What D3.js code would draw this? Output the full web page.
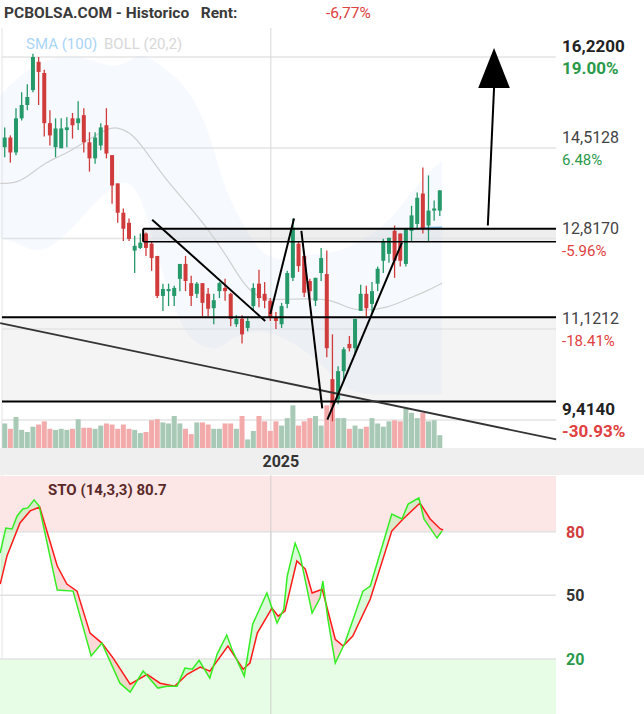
<!DOCTYPE html>
<html><head><meta charset="utf-8">
<script src="https://cdn.jsdelivr.net/npm/d3@7"></script>
<style>body{margin:0;background:#fff}svg{display:block;font-family:Roboto,sans-serif}</style>
</head><body><svg width="644" height="714"></svg>
<script>
// candles: open, close, high, low
const opens  = [14.53,14.71,14.43,15.07,15.32,15.60,16.13,15.92,14.98,14.53,14.51,14.85,15.07,14.98,15.13,14.62,14.32,14.56,14.94,14.38,13.85,13.30,13.11,12.59,12.64,12.91,12.72,12.49,11.74,11.83,11.74,12.06,12.34,11.98,11.78,11.98,11.78,11.51,11.83,11.89,11.78,11.21,11.31,11.14,11.55,11.97,11.78,11.65,11.33,11.21,11.59,12.08,12.72,12.49,12.02,11.65,12.17,12.15,10.18,9.80,10.33,10.84,10.76,11.46,11.78,11.59,11.97,12.40,12.53,12.96,12.91,12.34,12.96,13.09,13.66,13.06,13.34,13.34];
const closes = [14.71,14.43,15.07,15.32,15.47,16.22,15.94,14.98,14.75,14.88,14.88,14.90,14.94,15.07,14.62,14.32,14.71,14.90,14.41,13.81,13.30,13.00,12.81,12.68,12.74,12.64,12.45,11.74,11.87,11.87,11.89,12.34,12.02,11.74,11.97,11.61,11.50,11.66,11.98,11.83,11.31,11.31,11.02,11.27,11.89,11.70,11.65,11.33,11.27,11.55,12.17,13.02,12.30,11.80,11.83,12.08,12.45,10.76,9.73,10.33,10.74,10.76,11.31,11.78,11.51,11.83,12.25,12.77,12.83,12.40,12.40,13.00,13.25,13.58,13.00,13.34,13.38,13.72];
const highs  = [14.90,14.75,15.26,15.56,15.71,16.28,16.22,15.98,15.22,15.07,15.07,15.09,15.17,15.39,15.26,14.81,14.81,14.98,15.26,14.38,13.85,13.38,13.19,12.87,12.91,12.93,12.77,12.49,11.97,11.97,11.93,12.34,12.49,12.12,12.00,11.98,11.89,11.78,12.00,12.06,11.80,11.38,11.38,11.36,11.98,12.23,12.00,11.70,11.44,11.61,12.21,13.19,12.77,12.49,12.06,12.08,12.64,12.59,11.02,10.42,10.78,10.99,11.31,11.95,11.93,12.00,12.29,12.81,12.83,13.06,12.91,13.00,13.43,13.68,14.15,14.00,13.53,13.72];
const lows   = [14.34,14.24,14.38,15.03,15.22,15.56,15.32,14.73,14.56,14.34,14.51,14.53,14.69,14.85,14.43,14.07,14.22,14.47,14.32,13.47,13.11,12.77,12.77,12.17,12.62,12.49,12.21,11.70,11.46,11.55,11.55,11.83,11.83,11.55,11.70,11.36,11.36,11.21,11.70,11.65,11.17,11.16,10.85,11.08,11.46,11.53,11.51,11.27,11.12,11.14,11.51,12.02,12.19,11.72,11.55,11.55,12.02,10.59,9.39,9.71,10.14,10.70,10.67,11.46,11.36,11.42,11.83,12.17,12.36,12.08,12.29,12.29,12.77,13.00,12.91,12.77,13.15,13.24];
const volumes = [23,18,29,17,15,20,22,25,18,17,18,17,18,27,19,19,18,21,23,22,18,22,18,17,14,15,26,27,24,23,30,23,18,13,24,24,22,18,18,23,23,18,30,8,16,30,25,16,25,21,28,40,21,25,28,30,21,40,43,28,28,18,21,18,20,28,23,20,25,26,25,37,33,28,33,25,26,12];

// bollinger / sma, [index, price]
const bollMid = [[-0.8,13.85],[2.2,13.85],[5.0,14.05],[7.1,14.24],[11.0,14.41],[14.6,14.66],[18.6,14.90],[19.9,14.90],[22.7,14.79],[25.7,14.34],[28.7,13.90],[32.3,13.47],[35.8,13.02],[39.9,12.40],[43.9,11.65],[50.0,11.68],[57.6,11.70],[60.6,11.51],[63.4,11.46],[67.7,11.51],[71.2,11.68],[74.7,11.83],[77.4,11.98]];
const bollUp = [[-0.8,15.50],[2.7,15.88],[6.8,16.16],[13.3,16.30],[19.9,15.92],[23.9,16.35],[26.9,16.11],[31.0,15.79],[33.3,15.47],[36.3,14.79],[38.1,14.04],[40.4,13.40],[43.9,12.77],[46.4,12.45],[50.5,12.40],[53.5,12.53],[57.0,12.53],[61.1,12.64],[66.9,13.02],[70.0,13.40],[73.5,13.90],[77.4,14.28]];
const bollLow = [[-0.8,12.83],[5.0,12.64],[8.0,12.36],[11.6,12.77],[15.1,13.53],[19.2,14.00],[23.9,13.81],[28.7,11.65],[32.8,10.89],[37.6,10.70],[41.6,11.08],[47.0,11.08],[52.3,10.80],[58.1,10.27],[61.1,9.89],[77.4,9.89]];
const sma100 = [[73.5,13.02],[77.4,13.03]];

// stochastic, [index, value]
const stoK = [[-0.8,70.0],[0.2,81.7],[1.3,81.3],[2.2,87.4],[3.2,90.7],[4.1,91.2],[5.2,95.0],[6.1,92.1],[9.3,52.5],[12.1,52.0],[15.3,21.4],[17.2,27.5],[20.4,8.6],[22.2,4.4],[24.5,14.3],[27.1,6.3],[28.7,7.2],[30.5,7.2],[31.9,15.7],[33.2,15.2],[34.4,19.4],[36.3,11.0],[37.6,22.3],[39.3,31.3],[40.2,24.7],[42.4,11.9],[43.9,36.5],[46.4,51.1],[48.2,36.9],[49.4,43.5],[50.0,59.1],[51.4,74.6],[52.3,68.5],[54.4,41.6],[55.8,48.7],[56.3,56.7],[57.2,38.8],[58.5,18.1],[60.2,27.5],[63.4,52.0],[64.7,54.4],[68.5,88.3],[70.3,86.0],[71.4,93.0],[73.3,95.9],[74.2,86.0],[76.5,77.0],[77.4,80.3]];
const stoD = [[-0.8,55.3],[0.4,68.5],[2.7,84.1],[4.5,89.8],[6.2,91.6],[9.3,63.8],[11.0,55.3],[12.8,52.0],[15.1,32.2],[17.2,27.5],[19.2,20.4],[22.2,8.1],[25.2,12.8],[27.5,8.6],[30.1,7.2],[32.3,12.8],[34.6,16.2],[36.3,14.3],[39.5,26.1],[42.2,15.2],[43.4,18.1],[44.7,32.2],[47.3,44.0],[48.4,40.2],[49.6,42.6],[51.7,66.2],[53.2,62.4],[54.4,51.1],[56.2,52.9],[58.5,29.3],[59.9,26.1],[61.6,30.8],[64.7,48.3],[68.5,80.3],[70.5,86.0],[73.5,93.5],[75.3,86.0],[77.1,81.3],[77.6,80.8]];

// drawn annotations (index, price)
const hLines = [{p:13.0,from:24.5,w:2.2},{p:12.756,from:24.5,w:1.4},{p:11.34,from:-1,w:2},{p:9.76,from:-1,w:2}];
const trendLines = [[[26.1,13.17],[46.1,11.27]],[[47.0,11.40],[51.2,13.19]],[[52.5,12.96],[56.2,9.63]],[[57.1,9.42],[70.3,12.74]],[[85.5,13.06],[86.6,15.64]]];
const longLine = [[-0.8,11.23],[97.6,9.05]];

const priceTicks = [16.22,14.5128,12.817,11.1212,9.414];
const tickLabels = ["16,2200","14,5128","12,8170","11,1212","9,4140"];
const pctLabels = ["19.00%","6.48%","-5.96%","-18.41%","-30.93%"];
const stoTicks = [80,50,20];

const svg = d3.select("svg");
const plotR = 556;
const x = d3.scaleLinear().domain([0,77]).range([4.7,439.8]);
const y = d3.scaleLinear().domain([9.414,16.22]).range([420,57]);
const ys = d3.scaleLinear().domain([20,80]).range([659,531.7]);
const vh = d3.scaleLinear().domain([0,45]).range([0,48]);
const idx = d3.range(opens.length);

// header
svg.append("text").attr("x",4).attr("y",18).attr("font-size",15.5).attr("font-weight",700).attr("fill","#3a3a3a").attr("xml:space","preserve").text("PCBOLSA.COM - Historico   Rent:");
svg.append("text").attr("x",326).attr("y",18).attr("font-size",15.5).attr("fill","#e04040").text("-6,77%");

// grey zone + box
svg.append("rect").attr("x",2).attr("width",plotR-2).attr("y",y(11.34)).attr("height",y(9.76)-y(11.34)).attr("fill","#f4f4f4");
svg.append("rect").attr("x",x(24.5)).attr("width",plotR-x(24.5)).attr("y",y(13.0)).attr("height",y(12.756)-y(13.0)).attr("fill","#eeeeee");

// grid
svg.selectAll(".g").data(priceTicks).join("line").attr("x1",2).attr("x2",plotR).attr("y1",d=>y(d)).attr("y2",d=>y(d)).attr("stroke","#e4e4e4").attr("stroke-width",1.5);
svg.append("line").attr("x1",2).attr("x2",2).attr("y1",28).attr("y2",714).attr("stroke","#e4e4e4");
svg.append("line").attr("x1",x(47.1)).attr("x2",x(47.1)).attr("y1",28).attr("y2",714).attr("stroke","#d8d8d8");

// bollinger band
const bandArea = d3.area().x(d=>x(d[0])).y0(d=>y(d[1])).y1(d=>y(d[2])).curve(d3.curveBasis);
const lowI = d3.scaleLinear().domain(bollLow.map(d=>d[0])).range(bollLow.map(d=>d[1]));
svg.append("path").datum(bollUp.map(d=>[d[0],d[1],lowI(d[0])])).attr("d",bandArea).attr("fill","rgba(200,218,245,0.16)");
svg.append("path").datum(bollMid).attr("d",d3.line().x(d=>x(d[0])).y(d=>y(d[1])).curve(d3.curveBasis)).attr("fill","none").attr("stroke","#d0d0d0").attr("stroke-width",1.2);
svg.append("path").datum(sma100).attr("d",d3.line().x(d=>x(d[0])).y(d=>y(d[1]))).attr("fill","none").attr("stroke","#8cc8f0").attr("stroke-width",1.5);

// legend
svg.append("text").attr("x",26).attr("y",49).attr("font-size",15).attr("fill","#a9d5f7").text("SMA (100)");
svg.append("text").attr("x",104).attr("y",49).attr("font-size",15).attr("fill","#d8d8d8").text("BOLL (20,2)");

// volume
svg.selectAll(".v").data(idx).join("rect").attr("x",i=>x(i)-2.5).attr("width",5).attr("y",i=>448-vh(volumes[i])).attr("height",i=>vh(volumes[i]))
  .attr("fill",i=>closes[i]>=opens[i]?"#a8c9b6":"#f2aaaa");

// candles
const up = i=>closes[i]>=opens[i];
svg.selectAll(".w").data(idx).join("line").attr("x1",i=>x(i)).attr("x2",i=>x(i)).attr("y1",i=>y(highs[i])).attr("y2",i=>y(lows[i]))
  .attr("stroke",i=>up(i)?"#26996a":"#d03c3c").attr("stroke-width",1.3);
svg.selectAll(".c").data(idx).join("rect").attr("x",i=>x(i)-2).attr("width",4)
  .attr("y",i=>y(Math.max(opens[i],closes[i]))).attr("height",i=>Math.max(1.5,Math.abs(y(opens[i])-y(closes[i]))))
  .attr("fill",i=>up(i)?"#26996a":"#d03c3c");

// annotations
hLines.forEach(h=>svg.append("line").attr("x1",h.from<0?2:x(h.from)).attr("x2",plotR).attr("y1",y(h.p)).attr("y2",y(h.p)).attr("stroke","#000").attr("stroke-width",h.w));
svg.append("line").attr("x1",x(24.5)).attr("x2",x(24.5)).attr("y1",y(13.0)).attr("y2",y(12.756)).attr("stroke","#000").attr("stroke-width",2);
svg.append("line").attr("x1",x(longLine[0][0])).attr("y1",y(longLine[0][1])).attr("x2",x(longLine[1][0])).attr("y2",y(longLine[1][1])).attr("stroke","#333").attr("stroke-width",1.8);
trendLines.forEach(l=>svg.append("line").attr("x1",x(l[0][0])).attr("y1",y(l[0][1])).attr("x2",x(l[1][0])).attr("y2",y(l[1][1])).attr("stroke","#000").attr("stroke-width",2));
svg.append("path").attr("d",`M${x(86.6)},${y(16.39)}L${x(83.8)},${y(15.64)}L${x(89.4)},${y(15.64)}Z`).attr("fill","#000");

// price labels
const pcol = ["#2a9a4a","#2a9a4a","#e04040","#e04040","#e04040"];
priceTicks.forEach((p,k)=>{
  const bold = k==0||k==4;
  svg.append("text").attr("x",562).attr("y",y(p)-5).attr("font-size",bold?17:16).attr("font-weight",bold?700:400).attr("fill",bold?"#222":"#444").text(tickLabels[k]);
  svg.append("text").attr("x",562).attr("y",y(p)+17).attr("font-size",bold?17:15).attr("font-weight",bold?700:400).attr("fill",pcol[k]).text(pctLabels[k]);
});

// time axis strip
svg.append("rect").attr("x",0).attr("y",448).attr("width",644).attr("height",27).attr("fill","#efefef");
svg.append("text").attr("x",x(47.1)+10).attr("y",467).attr("text-anchor","middle").attr("font-size",16).attr("font-weight",700).attr("fill","#333").text("2025");

// stochastic panel
svg.append("rect").attr("x",0).attr("y",476).attr("width",plotR).attr("height",ys(80)-476).attr("fill","#fde6e6");
svg.append("rect").attr("x",0).attr("y",ys(20)).attr("width",plotR).attr("height",714-ys(20)).attr("fill","#e8fde6");
svg.selectAll(".sg").data(stoTicks).join("line").attr("x1",0).attr("x2",plotR).attr("y1",d=>ys(d)).attr("y2",d=>ys(d)).attr("stroke","#e2e2e2").attr("stroke-width",1.5);
svg.append("line").attr("x1",x(47.1)).attr("x2",x(47.1)).attr("y1",476).attr("y2",714).attr("stroke","#d0d0d0");
const scol = {80:"#d03c3c",50:"#333",20:"#2a9a4a"};
stoTicks.forEach(t=>svg.append("text").attr("x",566).attr("y",ys(t)+6).attr("font-size",16).attr("font-weight",700).attr("fill",scol[t]).text(t));
svg.append("text").attr("x",48).attr("y",495).attr("font-size",15).attr("font-weight",700).attr("fill","#5a2a2a").text("STO (14,3,3) 80.7");

const kLine = d3.line().x(d=>x(d[0])).y(d=>ys(d[1]));
const kPath = kLine(stoK);
const defs = svg.append("defs");
defs.append("clipPath").attr("id","belowK").append("path").attr("d",kPath+`L${x(77.4)},714L${x(-0.8)},714Z`);
defs.append("clipPath").attr("id","aboveK").append("path").attr("d",kPath+`L${x(77.4)},476L${x(-0.8)},476Z`);
const between = kPath + "L" + stoD.slice().reverse().map(d=>`${x(d[0])},${ys(d[1])}`).join("L") + "Z";
svg.append("path").attr("d",between).attr("fill","rgba(150,240,150,0.35)").attr("clip-path","url(#belowK)");
svg.append("path").attr("d",between).attr("fill","rgba(245,150,150,0.35)").attr("clip-path","url(#aboveK)");
svg.append("path").datum(stoD).attr("d",kLine).attr("fill","none").attr("stroke","#ff1a1a").attr("stroke-width",1.5);
svg.append("path").datum(stoK).attr("d",kLine).attr("fill","none").attr("stroke","#33ee22").attr("stroke-width",1.5);
</script></body></html>
